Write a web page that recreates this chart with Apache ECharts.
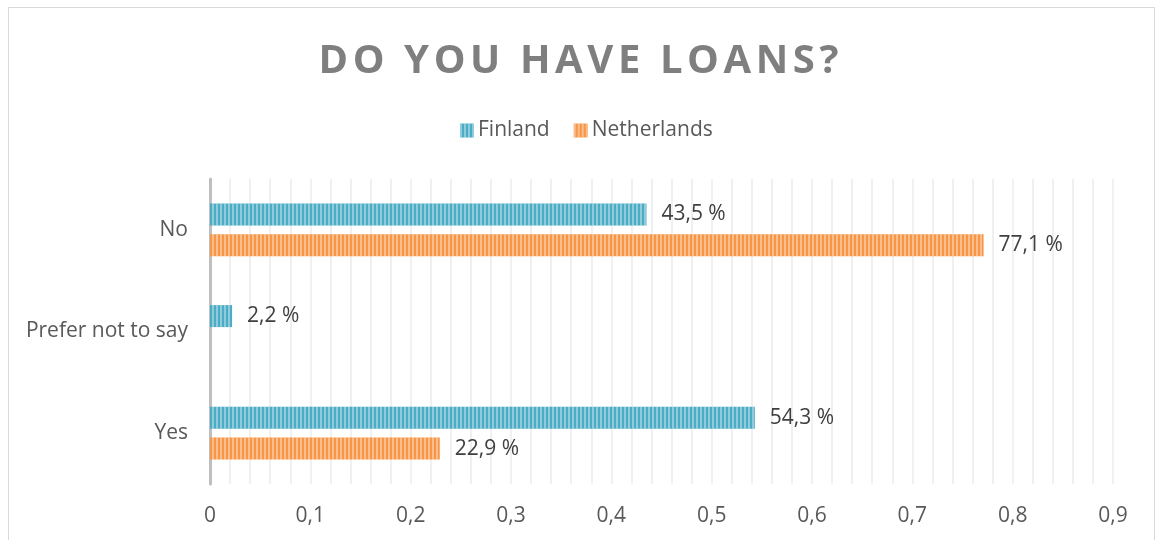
<!DOCTYPE html>
<html>
<head>
<meta charset="utf-8">
<script src="https://cdn.jsdelivr.net/npm/echarts@6/dist/echarts.min.js"></script>
<style>
  html, body { margin: 0; padding: 0; background: #ffffff; }
  #frame { position: absolute; left: 8px; top: 7px; width: 1147px; height: 545px; border: 1px solid #d9d9d9; box-sizing: border-box; }
  #chart { position: absolute; left: 0; top: 0; width: 1157px; height: 540px; }
</style>
</head>
<body>
<div id="frame"></div>
<div id="chart"></div>
<script>
// Survey answers, share of respondents per country
const TITLE = 'DO YOU HAVE LOANS?';
const categories = ['Yes', 'Prefer not to say', 'No'];
const seriesNames = ['Finland', 'Netherlands'];
const finland = [0.543, 0.022, 0.435];
const netherlands = [0.229, null, 0.771];

const FONT = '"Open Sans", "Noto Sans", sans-serif';

// spread the title letters a little apart
const titleRich = TITLE.split('').map(function (ch) { return '{t|' + ch + '}'; }).join('');

function pct(v) {
  return (v * 100).toFixed(1).replace('.', ',') + ' %';
}
function tick(v) {
  return String(Math.round(v * 10) / 10).replace('.', ',');
}

const stripes = function (c) {
  return {
    symbol: 'rect',
    symbolSize: 1,
    dashArrayX: [2, 2],
    dashArrayY: [4, 0],
    rotation: 0,
    color: c
  };
};

const chart = echarts.init(document.getElementById('chart'), null, { renderer: 'canvas' });
chart.setOption({
  animation: false,
  title: {
    text: titleRich,
    left: 'center',
    top: 37,
    textStyle: {
      rich: {
        t: { fontFamily: FONT, fontWeight: 'bold', fontSize: 40, color: '#7f7f7f', padding: [0, 2.3] }
      }
    }
  },
  legend: {
    data: seriesNames,
    top: 115,
    left: 455,
    itemWidth: 14,
    itemHeight: 14,
    itemGap: 24,
    icon: 'rect',
    textStyle: { fontFamily: FONT, fontSize: 21, color: '#595959', padding: [0, 0, 0, -1] }
  },
  grid: { left: 210, right: 44, top: 179, bottom: 56, containLabel: false },
  xAxis: {
    type: 'value',
    min: 0,
    max: 0.9,
    interval: 0.1,
    axisLine: { show: false },
    axisTick: { show: false },
    axisLabel: { formatter: tick, fontFamily: FONT, fontSize: 21, color: '#595959', margin: 22 },
    splitLine: { show: true, lineStyle: { color: '#ececec', width: 1.5 } },
    minorTick: { show: false, splitNumber: 5 },
    minorSplitLine: { show: true, lineStyle: { color: '#ececec', width: 1.5 } }
  },
  yAxis: {
    type: 'category',
    data: categories,
    axisLine: { show: true, lineStyle: { color: '#bfbfbf', width: 3 } },
    axisTick: { show: false },
    axisLabel: { fontFamily: FONT, fontSize: 21, color: '#595959', margin: 22, padding: [5, 0, 0, 0] },
    splitLine: { show: false }
  },
  series: [
    {
      name: 'Finland',
      type: 'bar',
      data: finland,
      barWidth: 22,
      barGap: '40%',
      itemStyle: { color: '#4bacc6', decal: stripes('rgba(255,255,255,0.38)') },
      label: { show: true, position: 'right', distance: 15, formatter: function (p) { return pct(p.value); }, fontFamily: FONT, fontSize: 21, color: '#404040' }
    },
    {
      name: 'Netherlands',
      type: 'bar',
      data: netherlands,
      barWidth: 22,
      barGap: '40%',
      itemStyle: { color: '#f79646', decal: stripes('rgba(255,255,255,0.38)') },
      label: { show: true, position: 'right', distance: 15, formatter: function (p) { return p.value == null ? '' : pct(p.value); }, fontFamily: FONT, fontSize: 21, color: '#404040' }
    }
  ]
});
</script>
</body>
</html>
